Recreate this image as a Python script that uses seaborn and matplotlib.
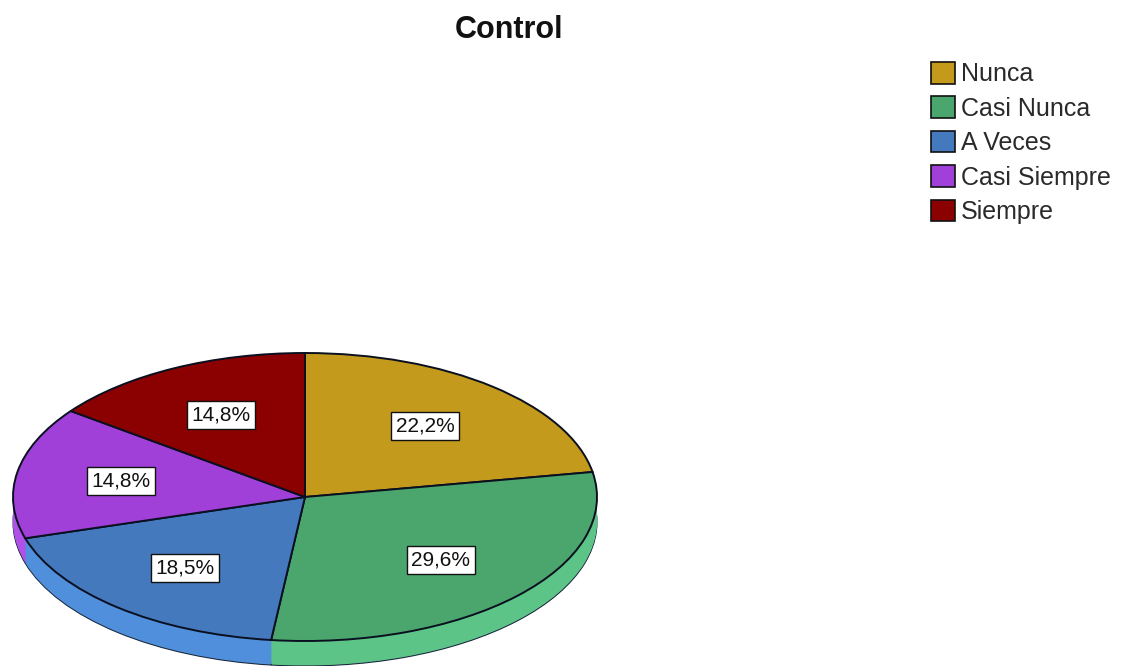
import matplotlib
matplotlib.use("Agg")
import matplotlib.pyplot as plt
import matplotlib.patches as mpatches
import seaborn as sns
import numpy as np

# ---- data ----
categories = ["Nunca", "Casi Nunca", "A Veces", "Casi Siempre", "Siempre"]
values = [22.2, 29.6, 18.5, 14.8, 14.8]
title = "Control"

top_colors = ["#C49A1C", "#4BA66E", "#4479BE", "#A040D8", "#8B0000"]
side_colors = ["#D4AA28", "#5CC486", "#4F8FDB", "#B050E8", "#A00000"]

sns.set_theme(style="white")
plt.rcParams["font.family"] = ["Liberation Sans", "DejaVu Sans"]

W, H = 1124, 666
fig = plt.figure(figsize=(W / 100, H / 100), dpi=100)
fig.patch.set_facecolor("white")

cx, cy = 305, 497   # pixel centre of the ellipse
rx, ry = 292, 144   # pixel radii
depth = 25 / ry     # side thickness in radius units
below = (H - cy) / ry

ax = fig.add_axes([(cx - rx) / W, 0, 2 * rx / W, (ry + (H - cy)) / H])

def fmt(p):
    return f"{p:.1f}%".replace(".", ",")

# side (stacked layers)
n_layers = 26
for i in range(n_layers):
    off = -depth + depth * i / n_layers
    ec = "#1a2a40" if i == 0 else "none"
    ax.pie(values, colors=side_colors, startangle=90, counterclock=False,
           center=(0, off), radius=1,
           wedgeprops=dict(edgecolor=ec, linewidth=0.8 if i == 0 else 0,
                           antialiased=True))

# top face
wedges, texts, autotexts = ax.pie(
    values, colors=top_colors, startangle=90, counterclock=False,
    center=(0, 0), radius=1, autopct=fmt, pctdistance=0.64,
    wedgeprops=dict(edgecolor="#0a1020", linewidth=1.4),
    textprops=dict(fontsize=15, color="#111111"))
for t in autotexts:
    t.set_bbox(dict(boxstyle="square,pad=0.22", facecolor="white",
                    edgecolor="#111111", linewidth=1.0))
    t.set_zorder(10)

ax.set_aspect("auto")
ax.set_xlim(-1, 1)
ax.set_ylim(-below, 1)
ax.axis("off")

# title
fig.text(509 / W, 1 - 30 / H, title, ha="center", va="center",
         fontsize=22, fontweight="bold", color="#111111")

# legend
handles = [mpatches.Patch(facecolor=c, edgecolor="#111111", linewidth=1.2)
           for c in top_colors]
leg = fig.legend(handles, categories, loc="upper left",
                 bbox_to_anchor=(931 / W, 1 - 62 / H), frameon=False,
                 fontsize=18, handlelength=0.95, handleheight=0.95,
                 handletextpad=0.25, labelspacing=0.4, borderpad=0,
                 borderaxespad=0)
for t in leg.get_texts():
    t.set_color("#2a2a2a")

fig.savefig("out.png", dpi=100, facecolor="white")
